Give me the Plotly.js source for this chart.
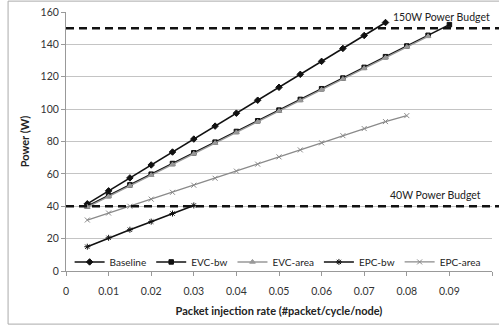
<!DOCTYPE html>
<html>
<head>
<meta charset="utf-8">
<script src="https://cdn.plot.ly/plotly-3.0.1.min.js"></script>
<style>html,body{margin:0;padding:0;background:#fff;}#chart{width:499px;height:331px;}</style>
</head>
<body>
<div id="chart"></div>
<script>
// ---- data ----
const seriesNames = ["Baseline", "EVC-bw", "EVC-area", "EPC-bw", "EPC-area"];
const rateBaseline = [0.005,0.01,0.015,0.02,0.025,0.03,0.035,0.04,0.045,0.05,0.055,0.06,0.065,0.07,0.075];
const powerBaseline = [41.5,49.5,57.5,65.5,73.5,81.5,89.5,97.5,105.5,113.5,121.5,129.5,137.5,145.5,153.5];
const rateEVCbw = [0.005,0.01,0.015,0.02,0.025,0.03,0.035,0.04,0.045,0.05,0.055,0.06,0.065,0.07,0.075,0.08,0.085,0.09];
const powerEVCbw = [40,46.6,53.2,59.8,66.4,73,79.6,86.2,92.8,99.4,106,112.6,119.2,125.8,132.4,139,145.6,152.2];
const rateEVCarea = [0.005,0.01,0.015,0.02,0.025,0.03,0.035,0.04,0.045,0.05,0.055,0.06,0.065,0.07,0.075,0.08,0.085];
const powerEVCarea = [39.5,46,52.6,59.2,65.8,72.4,79,85.6,92.2,98.8,105.4,112,118.6,125.2,131.8,138.4,145];
const rateEPCbw = [0.005,0.01,0.015,0.02,0.025,0.03];
const powerEPCbw = [15,20.5,25.5,30.5,35.5,40.5];
const rateEPCarea = [0.005,0.01,0.015,0.02,0.025,0.03,0.035,0.04,0.045,0.05,0.055,0.06,0.065,0.07,0.075,0.08];
const powerEPCarea = [31.5,35.8,40,44.4,48.6,53,57.3,61.7,66,70.5,74.8,79.2,83.6,88,92.3,96];
const budgetValues = [150, 40];
const budgetLabels = ["150W Power Budget", "40W Power Budget"];
const budgetLabelX = [0.1, 0.098];
const xTickVals = [0,0.01,0.02,0.03,0.04,0.05,0.06,0.07,0.08,0.09,0.1];
const xTickText = ["0","0.01","0.02","0.03","0.04","0.05","0.06","0.07","0.08","0.09","0.1"];
const yTickVals = [0,20,40,60,80,100,120,140,160];

// ---- styles ----
const FONT = "Lato, 'Open Sans', sans-serif";
const styles = [
  {color:"#111", symbol:"diamond", size:5, width:1.6},
  {color:"#111", symbol:"square", size:4.5, width:1.6},
  {color:"#999", symbol:"triangle-up", size:5, width:1.4},
  {color:"#111", symbol:"asterisk-open", size:5, width:1.6},
  {color:"#8a8a8a", symbol:"x-thin-open", size:5, width:1.3}
];
const xs = [rateBaseline, rateEVCbw, rateEVCarea, rateEPCbw, rateEPCarea];
const ys = [powerBaseline, powerEVCbw, powerEVCarea, powerEPCbw, powerEPCarea];

const traces = seriesNames.map((n, i) => ({
  type: "scatter", mode: "lines+markers", name: n,
  x: xs[i], y: ys[i],
  line: {color: styles[i].color, width: styles[i].width},
  marker: {color: styles[i].color, symbol: styles[i].symbol, size: styles[i].size,
           line: {color: styles[i].color, width: 1}}
}));

const shapes = budgetValues.map(v => ({
  type: "line", xref: "paper", yref: "y", x0: 0, x1: 1.02, y0: v, y1: v,
  line: {color: "#111", width: 2.5, dash: "8px,5px"}, layer: "above"
}));
shapes.push({type: "rect", xref: "paper", yref: "paper", x0: -0.136, x1: 1.1, y0: -0.205, y1: 1.042,
  line: {color: "#aaa", width: 1}, fillcolor: "rgba(0,0,0,0)"});

const annotations = budgetValues.map((v, i) => ({
  xref: "x", yref: "y", x: budgetLabelX[i], y: v, xanchor: "right", yanchor: "bottom",
  yshift: 3, showarrow: false, text: budgetLabels[i],
  font: {family: FONT, size: 10.5, color: "#222"}
}));

const layout = {
  width: 499, height: 331,
  margin: {l: 66, r: 7, t: 12, b: 60},
  paper_bgcolor: "#fff", plot_bgcolor: "#fff",
  showlegend: true,
  legend: {orientation: "h", x: 0.985, xanchor: "right", y: 0.035, yanchor: "middle",
           bgcolor: "rgba(0,0,0,0)", font: {family: FONT, size: 10, color: "#222"},
           itemwidth: 30, tracegroupgap: 0},
  xaxis: {range: [0, 0.1], tickvals: xTickVals, ticktext: xTickText, showgrid: false,
          zeroline: false, showline: true, linecolor: "#999", linewidth: 1,
          ticks: "outside", ticklen: 4, tickcolor: "#999", ticklabelstandoff: 6,
          tickfont: {family: FONT, size: 10.5, color: "#333"},
          title: {text: "<b>Packet injection rate (#packet/cycle/node)</b>", standoff: 11,
                  font: {family: FONT, size: 11, color: "#222"}}},
  yaxis: {range: [0, 160], tickvals: yTickVals, showgrid: true, gridcolor: "#c4c4c4", gridwidth: 1,
          zeroline: false, showline: true, linecolor: "#999", linewidth: 1,
          ticks: "outside", ticklen: 4, tickcolor: "#999",
          tickfont: {family: FONT, size: 10.5, color: "#333"},
          title: {text: "<b>Power (W)</b>", standoff: 8,
                  font: {family: FONT, size: 11, color: "#222"}}},
  shapes: shapes,
  annotations: annotations,
  font: {family: FONT}
};

Plotly.newPlot("chart", traces, layout, {displayModeBar: false, staticPlot: true});
</script>
</body>
</html>
